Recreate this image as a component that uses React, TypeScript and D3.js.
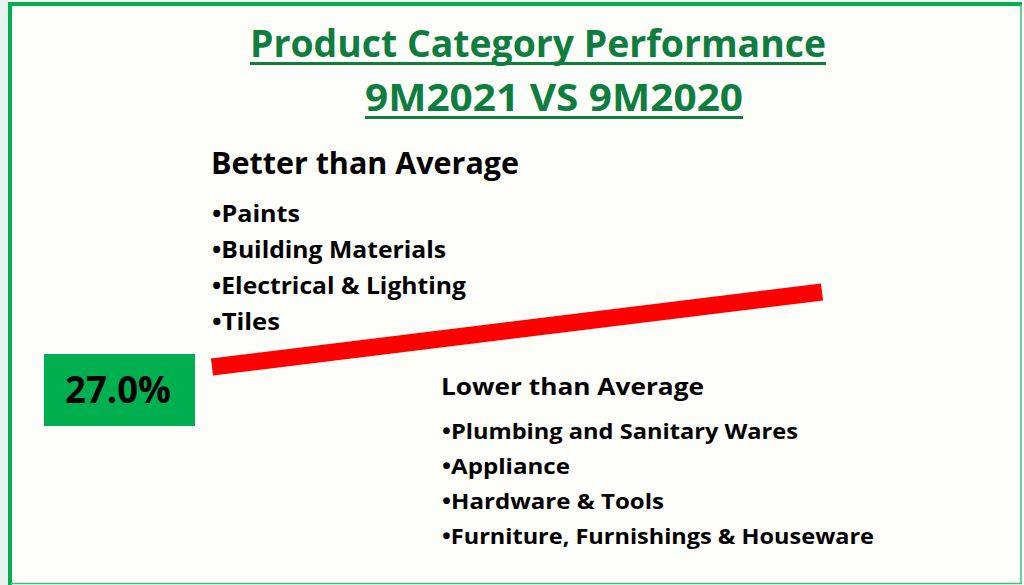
import { useEffect, useRef } from 'react'
import * as d3 from 'd3'

// slide content
const titleLines = ['Product Category Performance', '9M2021 VS 9M2020']
const betterHeading = 'Better than Average'
const betterItems = ['Paints', 'Building Materials', 'Electrical & Lighting', 'Tiles']
const lowerHeading = 'Lower than Average'
const lowerItems = ['Plumbing and Sanitary Wares', 'Appliance', 'Hardware & Tools', 'Furniture, Furnishings & Houseware']
const averageGrowth = 0.27
// trend bar: start/end on a 0..1 progress axis, rising from low to high
const trendPoints: [number, number][] = [[0, 0], [1, 1]]

const FONT = '"Open Sans", Lato, sans-serif'
const GREEN = '#00b050'
const TITLE_GREEN = '#0e7d3f'

export default function App() {
  const ref = useRef<SVGSVGElement>(null)

  useEffect(() => {
    if (!ref.current) return
    const svg = d3.select(ref.current)
    svg.selectAll('*').remove()

    const width = 1024
    const height = 585
    svg.attr('width', width).attr('height', height).attr('viewBox', `0 0 ${width} ${height}`)
      .style('font-variant-ligatures', 'none')

    // page background + faint outer shade
    svg.append('rect').attr('width', width).attr('height', height).attr('fill', '#fdfdf9')
    svg.append('rect').attr('x', 0).attr('y', 0).attr('width', 8).attr('height', height).attr('fill', '#e9f3ef')

    // frame
    svg.append('line').attr('x1', 10).attr('x2', 10).attr('y1', 2).attr('y2', height)
      .attr('stroke', GREEN).attr('stroke-width', 4)
    svg.append('line').attr('x1', 8).attr('x2', 1022).attr('y1', 4).attr('y2', 4)
      .attr('stroke', GREEN).attr('stroke-width', 4)
    svg.append('line').attr('x1', 1021).attr('x2', 1021).attr('y1', 4).attr('y2', 584)
      .attr('stroke', '#3cbf7a').attr('stroke-width', 1.5)
    svg.append('line').attr('x1', 10).attr('x2', 1022).attr('y1', 583.5).attr('y2', 583.5)
      .attr('stroke', '#3cbf7a').attr('stroke-width', 1.5)

    // title
    const titleBase = [57, 111]
    const titleWidth = [576, 378]
    titleLines.forEach((t, i) => {
      const cx = 538 + (i === 1 ? 16 : 0)
      svg.append('text')
        .attr('x', cx).attr('y', titleBase[i])
        .attr('text-anchor', 'middle')
        .attr('font-family', FONT).attr('font-weight', 700).attr('font-size', 38)
        .attr('fill', TITLE_GREEN)
        .attr('textLength', titleWidth[i]).attr('lengthAdjust', 'spacingAndGlyphs')
        .text(t)
      svg.append('line')
        .attr('x1', cx - titleWidth[i] / 2).attr('x2', cx + titleWidth[i] / 2)
        .attr('y1', titleBase[i] + 6.5).attr('y2', titleBase[i] + 6.5)
        .attr('stroke', TITLE_GREEN).attr('stroke-width', 3)
    })

    // trend bar
    const tx = d3.scaleLinear().domain([0, 1]).range([212, 822])
    const ty = d3.scaleLinear().domain([0, 1]).range([367, 292])
    const line = d3.line<[number, number]>().x(d => tx(d[0])).y(d => ty(d[1]))
    svg.append('path')
      .attr('d', line(trendPoints))
      .attr('stroke', '#ff0000').attr('stroke-width', 17).attr('fill', 'none')

    // average box
    svg.append('rect').attr('x', 44).attr('y', 354).attr('width', 151).attr('height', 72).attr('fill', GREEN)
    svg.append('text')
      .attr('x', 118).attr('y', 403)
      .attr('text-anchor', 'middle')
      .attr('font-family', FONT).attr('font-weight', 700).attr('font-size', 38)
      .attr('fill', '#000')
      .attr('textLength', 106).attr('lengthAdjust', 'spacingAndGlyphs')
      .text(d3.format('.1%')(averageGrowth))

    // lists
    const drawList = (x: number, headY: number, head: string, headSize: number, headW: number,
      items: string[], itemSize: number, firstY: number, step: number, widths: number[]) => {
      svg.append('text')
        .attr('x', x).attr('y', headY)
        .attr('font-family', FONT).attr('font-weight', 700).attr('font-size', headSize)
        .attr('fill', '#000')
        .attr('textLength', headW).attr('lengthAdjust', 'spacingAndGlyphs')
        .text(head)
      items.forEach((it, i) => {
        svg.append('text')
          .attr('x', x + 1).attr('y', firstY + i * step)
          .attr('font-family', FONT).attr('font-weight', 700).attr('font-size', itemSize)
          .attr('fill', '#000')
          .attr('textLength', widths[i]).attr('lengthAdjust', 'spacingAndGlyphs')
          .text('\u2022' + it)
      })
    }

    drawList(211, 174, betterHeading, 30, 308, betterItems, 23, 222, 36, [88, 234, 254, 68])
    drawList(441, 395, lowerHeading, 24, 263, lowerItems, 21, 439, 35, [356, 128, 222, 432])
  }, [])

  return <svg ref={ref} style={{ position: 'absolute', left: 0, top: 0, display: 'block' }} />
}
